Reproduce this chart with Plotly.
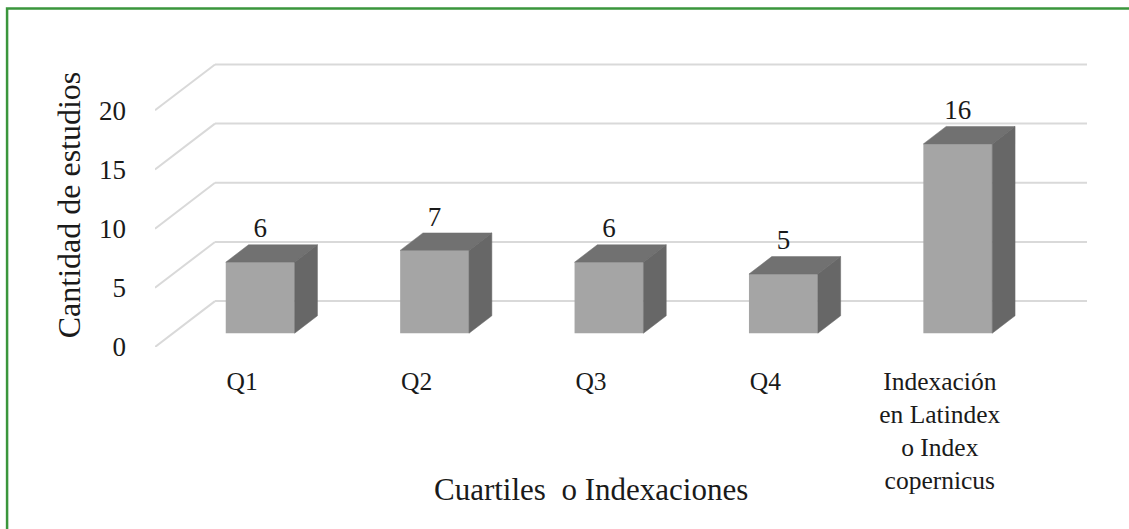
import plotly.graph_objects as go

# ---- data ----
categories = ["Q1", "Q2", "Q3", "Q4", "Indexación<br>en Latindex<br>o Index<br>copernicus"]
values = [6, 7, 6, 5, 16]
y_ticks = [0, 5, 10, 15, 20]
y_title = "Cantidad de estudios"
x_title = "Cuartiles\u00a0 o Indexaciones"

# ---- 3D look parameters (in axis units) ----
DEPTH_X = 0.344      # full floor depth, x units
DEPTH_Y = 3.88       # full floor depth, y units
BAR_FRONT = 0.30     # depth fraction of bar front face
BAR_DEPTH = 0.38     # depth fraction occupied by bar
BAR_W = 0.395
X_MIN, X_MAX = -0.5, len(categories) - 0.5 + DEPTH_X
Y_MAX = 24

FRONT = "#a5a5a5"
TOP = "#717171"
SIDE = "#676767"
GRID = "#d9d9d9"
FONT = "Liberation Serif"
TXT = "#1a1a1a"

W, H = 1129, 529
ML, MR, MT, MB = 155, 41.5, 62.6, 182

fig = go.Figure()

# gridlines (below traces): diagonal on left side wall + back wall line
for t in y_ticks:
    fig.add_shape(type="line", xref="x", yref="y", layer="below",
                  x0=X_MIN, y0=t, x1=X_MIN + DEPTH_X, y1=t + DEPTH_Y,
                  line=dict(color=GRID, width=2))
    fig.add_shape(type="line", xref="x", yref="y", layer="below",
                  x0=X_MIN + DEPTH_X, y0=t + DEPTH_Y, x1=X_MAX, y1=t + DEPTH_Y,
                  line=dict(color=GRID, width=2))

fdx = BAR_FRONT * DEPTH_X
fdy = BAR_FRONT * DEPTH_Y
bdx = BAR_DEPTH * DEPTH_X
bdy = BAR_DEPTH * DEPTH_Y
xs = [i + fdx for i in range(len(categories))]

# front faces
fig.add_trace(go.Bar(
    x=xs, y=values, base=[fdy] * len(values), width=BAR_W,
    marker=dict(color=FRONT, line=dict(width=0)),
    hoverinfo="skip", showlegend=False))

for xc, v in zip(xs, values):
    xl, xr = xc - BAR_W / 2, xc + BAR_W / 2
    b = fdy
    # top face
    fig.add_trace(go.Scatter(
        x=[xl, xr, xr + bdx, xl + bdx, xl],
        y=[b + v, b + v, b + v + bdy, b + v + bdy, b + v],
        fill="toself", fillcolor=TOP, mode="lines",
        line=dict(width=0.5, color=TOP), hoverinfo="skip", showlegend=False))
    # side face
    fig.add_trace(go.Scatter(
        x=[xr, xr, xr + bdx, xr + bdx, xr],
        y=[b, b + v, b + v + bdy, b + bdy, b],
        fill="toself", fillcolor=SIDE, mode="lines",
        line=dict(width=0.5, color=SIDE), hoverinfo="skip", showlegend=False))

# value labels
fig.add_trace(go.Scatter(
    x=xs, y=[fdy + v + bdy + 1.2 for v in values],
    text=[str(v) for v in values], mode="text",
    textposition="middle center",
    textfont=dict(family=FONT, size=27, color=TXT),
    hoverinfo="skip", showlegend=False, cliponaxis=False))

plot_w = W - ML - MR
plot_h = H - MT - MB

# green frame
fig.add_shape(type="rect", xref="paper", yref="paper",
              x0=(7 - ML) / plot_w, x1=(W + 5 - ML) / plot_w,
              y0=-(H + 5 - MT - plot_h) / plot_h, y1=(H - MB - 8) / plot_h,
              line=dict(color="#3a963c", width=2.5), fillcolor="rgba(0,0,0,0)",
              layer="above")

# x axis title (centered on front floor edge)
fig.add_annotation(x=(len(categories) - 1) / 2, xref="x",
                   y=-(490 - (H - MB)) / plot_h, yref="paper",
                   text=x_title, showarrow=False,
                   font=dict(family=FONT, size=31, color=TXT),
                   xanchor="center", yanchor="middle")

fig.update_layout(
    width=W, height=H, autosize=False,
    margin=dict(l=ML, r=MR, t=MT, b=MB),
    paper_bgcolor="white", plot_bgcolor="white",
    showlegend=False, barmode="overlay",
    xaxis=dict(range=[X_MIN, X_MAX], tickvals=list(range(len(categories))),
               ticktext=categories, showgrid=False, zeroline=False,
               showline=False, ticks="", ticklabelstandoff=16,
               tickfont=dict(family=FONT, size=25.5, color=TXT),
               fixedrange=True),
    yaxis=dict(range=[0, Y_MAX], tickvals=y_ticks, showgrid=False,
               zeroline=False, showline=False, ticks="",
               ticklabelstandoff=28,
               tickfont=dict(family=FONT, size=27, color=TXT),
               title=dict(text=y_title, standoff=8,
                          font=dict(family=FONT, size=32, color=TXT)),
               fixedrange=True),
)

fig.write_html("out.html")
